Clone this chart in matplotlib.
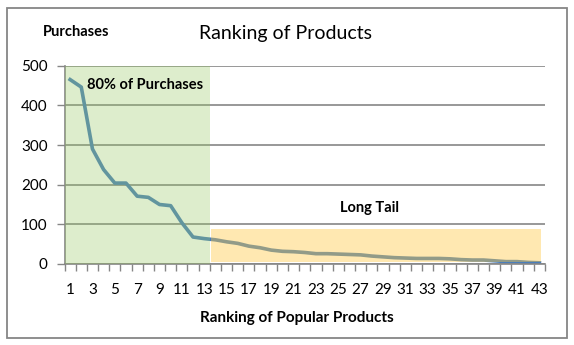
import matplotlib
matplotlib.use("Agg")
import matplotlib.pyplot as plt
from matplotlib.patches import Rectangle
from matplotlib.ticker import FixedLocator, NullFormatter

plt.rcParams['font.family'] = ['Lato', 'DejaVu Sans']

# Purchases per product, ordered by popularity rank
ranks = list(range(1, 44))
purchases = [465, 446, 290, 238, 204, 204, 171, 168, 150, 147,
             104, 68, 64, 61, 56, 52, 45, 41, 35, 32,
             31, 29, 26, 26, 25, 24, 23, 20, 18, 16,
             15, 14, 14, 14, 13, 11, 10, 10, 8, 6,
             6, 4, 3]
y_ticks = [0, 100, 200, 300, 400, 500]
x_labels = list(range(1, 44, 2))

head_end = 13          # last rank of the "80% of Purchases" group
tail_top = 88          # height of the long-tail band

GRAY = '#868686'
BLUE = '#4A7EBB'

fig = plt.figure(figsize=(5.74, 3.45), dpi=100)
ax = fig.add_axes([0.1124, 0.2348, 0.9495 - 0.1124, 0.8096 - 0.2348])

ax.plot(ranks, purchases, color=BLUE, lw=2.6, solid_joinstyle='round', zorder=2)

# shaded groups drawn over the line
ax.add_patch(Rectangle((0.5, 0), head_end, 500, facecolor=(0.59, 0.78, 0.39),
                       alpha=0.32, edgecolor='none', zorder=3))
ax.add_patch(Rectangle((head_end + 0.6, 4), len(ranks) - head_end - 0.45, tail_top - 4,
                       facecolor=(1.0, 0.78, 0.24), alpha=0.4, edgecolor='none', zorder=3))

ax.set_xlim(0.5, len(ranks) + 0.5)
ax.set_ylim(0, 500)

ax.set_yticks(y_ticks)
ax.set_yticklabels([str(v) for v in y_ticks])
ax.yaxis.grid(True, color=GRAY, lw=1.2)
ax.set_axisbelow(True)

ax.xaxis.set_major_locator(FixedLocator([r + 0.5 for r in range(0, 44)]))
ax.xaxis.set_major_formatter(NullFormatter())
ax.xaxis.set_minor_locator(FixedLocator(x_labels))
ax.set_xticklabels([str(v) for v in x_labels], minor=True)
ax.tick_params(axis='x', which='major', length=5, width=1, color=GRAY, direction='out')
ax.tick_params(axis='x', which='minor', length=0, pad=14, labelsize=11)
ax.tick_params(axis='y', length=6, width=1, color=GRAY, pad=6, labelsize=11)

for side in ('top', 'right'):
    ax.spines[side].set_visible(False)
for side in ('left', 'bottom'):
    ax.spines[side].set_color(GRAY)
    ax.spines[side].set_linewidth(1.2)

ax.text(2.55, 452, '80% of Purchases', fontsize=10.5, fontweight='bold', va='center', ha='left', zorder=5)
ax.text(27.8, 140, 'Long Tail', fontsize=10.5, fontweight='bold', va='center', ha='center', zorder=5)

fig.text(0.497, 0.904, 'Ranking of Products', fontsize=14, ha='center', va='center')
fig.text(0.132, 0.907, 'Purchases', fontsize=10.5, fontweight='bold', ha='center', va='center')
fig.text(0.517, 0.078, 'Ranking of Popular Products', fontsize=11, fontweight='bold', ha='center', va='center')

fig.patches.append(Rectangle((0.012, 0.02), 0.976, 0.958, transform=fig.transFigure,
                             fill=False, edgecolor=GRAY, lw=1.3))

fig.savefig('out.png', dpi=100)
